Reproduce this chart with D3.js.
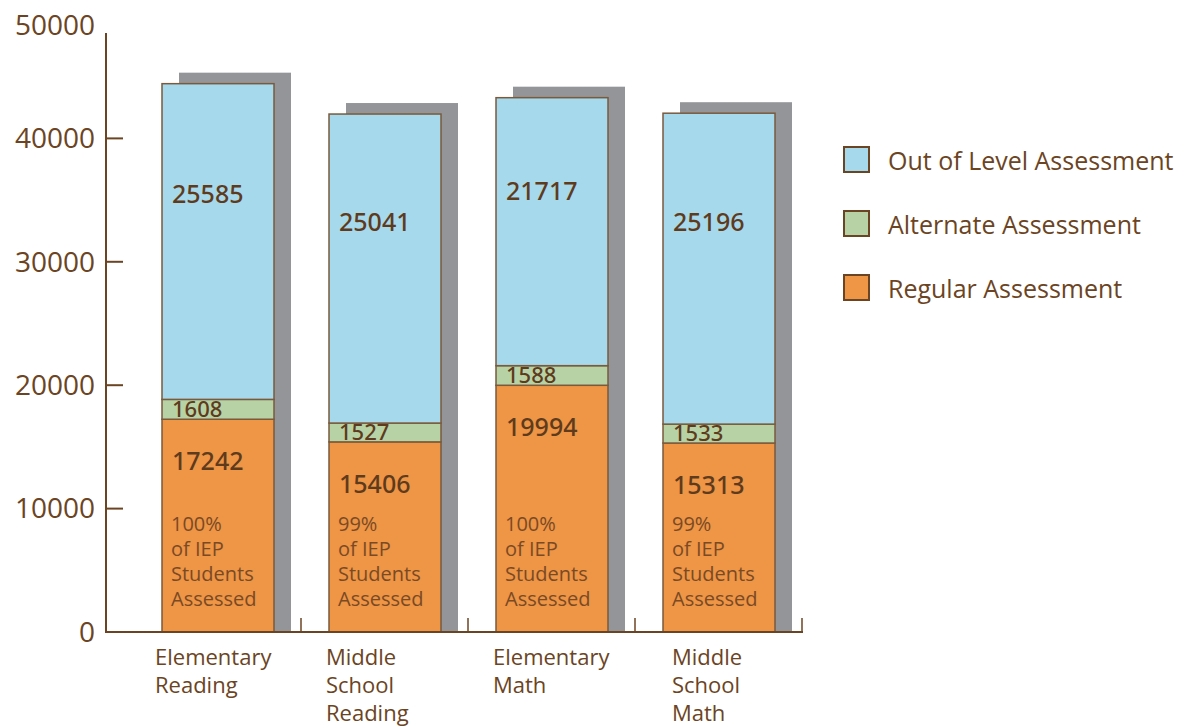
<!DOCTYPE html>
<html>
<head>
<meta charset="utf-8">
<script src="https://cdn.jsdelivr.net/npm/d3@7"></script>
<style>
  body { margin: 0; background: #fff; }
  svg text { font-family: "Open Sans", "Noto Sans", sans-serif; fill: #6b4423; }
  svg text.num { font-family: "Noto Sans", "Open Sans", sans-serif; font-weight: 500; fill: #5e3b1c; }
</style>
</head>
<body>
<script>
// categories and stacked series (bottom to top)
var categories = ["Elementary Reading", "Middle School Reading", "Elementary Math", "Middle School Math"];
var categoryLines = [["Elementary", "Reading"], ["Middle", "School", "Reading"], ["Elementary", "Math"], ["Middle", "School", "Math"]];
var regular = [17242, 15406, 19994, 15313];
var alternate = [1608, 1527, 1588, 1533];
var outOfLevel = [25585, 25041, 21717, 25196];
var percentAssessed = ["100%", "99%", "100%", "99%"];
var seriesNames = ["Out of Level Assessment", "Alternate Assessment", "Regular Assessment"];
var yTicks = [0, 10000, 20000, 30000, 40000, 50000];

var width = 1180, height = 728;
var brown = "#6b4423";
var colors = { regular: "#ee9546", alternate: "#b7d3a6", outOfLevel: "#a7d9ec" };

var svg = d3.select("body").append("svg")
    .attr("width", width)
    .attr("height", height);

// scales
var y = d3.scaleLinear().domain([0, 50000]).range([632, 15]);
var x = d3.scaleBand().domain(categories).range([134, 802]);
var barOffset = 28, barWidth = 112;
var shadow = { dx: 17, dy: -11 };

// build stacked rows
var rows = categories.map(function(c, i) {
  return { cat: c, regular: regular[i], alternate: alternate[i], outOfLevel: outOfLevel[i] };
});
var stack = d3.stack().keys(["regular", "alternate", "outOfLevel"])(rows);

// shadows behind bars
svg.append("g").selectAll("rect")
  .data(rows)
  .enter().append("rect")
    .attr("x", function(d) { return x(d.cat) + barOffset + shadow.dx; })
    .attr("y", function(d) { return y(d.regular + d.alternate + d.outOfLevel) + shadow.dy; })
    .attr("width", barWidth)
    .attr("height", function(d) { return y(0) - y(d.regular + d.alternate + d.outOfLevel) - shadow.dy; })
    .attr("fill", "#939598");

// stacked segments
svg.append("g").selectAll("g")
  .data(stack)
  .enter().append("g")
    .attr("fill", function(s) { return colors[s.key]; })
  .selectAll("rect")
  .data(function(s) { return s; })
  .enter().append("rect")
    .attr("x", function(d) { return x(d.data.cat) + barOffset; })
    .attr("y", function(d) { return y(d[1]); })
    .attr("width", barWidth)
    .attr("height", function(d) { return y(d[0]) - y(d[1]); })
    .attr("stroke", "#7a5a3c")
    .attr("stroke-width", 1.5);

// value labels
var labels = svg.append("g");
rows.forEach(function(d, i) {
  var lx = x(d.cat) + barOffset + 10;
  var regTop = y(d.regular);
  var altTop = y(d.regular + d.alternate);
  var total = y(d.regular + d.alternate + d.outOfLevel);

  labels.append("text").attr("class", "num")
    .attr("x", lx).attr("y", total + (altTop - total) * 0.35)
    .attr("dy", "0.35em")
    .style("font-size", "25px")
    .text(d.outOfLevel);

  labels.append("text").attr("class", "num")
    .attr("x", lx).attr("y", (regTop + altTop) / 2)
    .attr("dy", "0.35em")
    .style("font-size", "22px")
    .text(d.alternate);

  labels.append("text").attr("class", "num")
    .attr("x", lx).attr("y", regTop + 42)
    .attr("dy", "0.35em")
    .style("font-size", "25px")
    .text(d.regular);

  var note = [percentAssessed[i], "of IEP", "Students", "Assessed"];
  note.forEach(function(t, k) {
    labels.append("text")
      .attr("x", lx - 1).attr("y", y(0) - 33 - (3 - k) * 25)
      .attr("dy", "0.35em")
      .style("font-size", "20px")
      .style("fill", "#7a4a24")
      .text(t);
  });
});

// y axis
var axisX = 106;
svg.append("line")
    .attr("x1", axisX).attr("x2", axisX)
    .attr("y1", y(0)).attr("y2", y(50000) + 18)
    .attr("stroke", brown).attr("stroke-width", 2);

var yAxis = svg.append("g");
yAxis.selectAll("line")
  .data(yTicks.filter(function(t) { return t > 0 && t < 50000; }))
  .enter().append("line")
    .attr("x1", axisX).attr("x2", axisX + 17)
    .attr("y1", function(t) { return y(t); })
    .attr("y2", function(t) { return y(t); })
    .attr("stroke", brown).attr("stroke-width", 2);

yAxis.selectAll("text")
  .data(yTicks)
  .enter().append("text")
    .attr("x", 95)
    .attr("y", function(t) { return Math.max(y(t), 25); })
    .attr("dy", "0.35em")
    .attr("text-anchor", "end")
    .style("font-size", "28px")
    .text(function(t) { return t; });

// x axis
svg.append("line")
    .attr("x1", axisX - 1).attr("x2", x.range()[1] + 1)
    .attr("y1", y(0)).attr("y2", y(0))
    .attr("stroke", brown).attr("stroke-width", 2);

var xTicks = [axisX].concat(categories.map(function(c) { return x(c) + x.bandwidth(); }));
svg.append("g").selectAll("line")
  .data(xTicks)
  .enter().append("line")
    .attr("x1", function(d) { return d; }).attr("x2", function(d) { return d; })
    .attr("y1", y(0)).attr("y2", y(0) - 14)
    .attr("stroke", brown).attr("stroke-width", 1.5);

// category labels
categories.forEach(function(c, i) {
  var lx = x(c) + barOffset - 7 + (i === 3 ? 16 : 0) + (i > 0 && i < 3 ? 4 : 0);
  var t = svg.append("text")
    .attr("y", 665)
    .style("font-size", "22px");
  categoryLines[i].forEach(function(line, k) {
    t.append("tspan")
      .attr("x", lx)
      .attr("dy", k === 0 ? 0 : 28)
      .text(line);
  });
});

// legend
var legendKeys = ["outOfLevel", "alternate", "regular"];
var legend = svg.append("g").selectAll("g")
  .data(seriesNames)
  .enter().append("g")
    .attr("transform", function(d, i) { return "translate(844," + (147 + i * 64) + ")"; });

legend.append("rect")
    .attr("width", 25).attr("height", 25)
    .attr("fill", function(d, i) { return colors[legendKeys[i]]; })
    .attr("stroke", brown).attr("stroke-width", 2);

legend.append("text")
    .attr("x", 44).attr("y", 14)
    .attr("dy", "0.35em")
    .style("font-size", "25px")
    .text(function(d) { return d; });
</script>
</body>
</html>
